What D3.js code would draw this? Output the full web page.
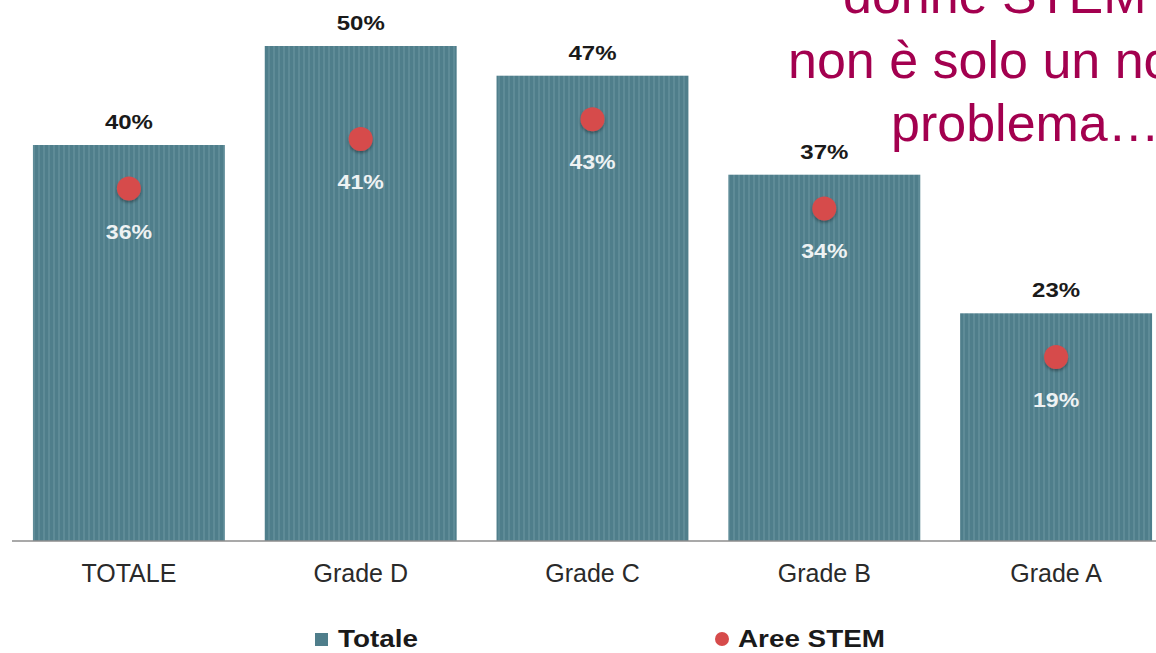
<!DOCTYPE html>
<html>
<head>
<meta charset="utf-8">
<script src="https://cdn.jsdelivr.net/npm/d3@7"></script>
<style>
  body { margin: 0; background: #fff; overflow: hidden; }
  svg { display: block; }
</style>
</head>
<body>
<svg id="chart"></svg>
<script>
// Data
const categories = ['TOTALE', 'Grade D', 'Grade C', 'Grade B', 'Grade A'];
const totale = [40, 50, 47, 37, 23];
const stem = [36, 41, 43, 34, 19];
const legendLabels = ['Totale', 'Aree STEM'];
const titleLines = ['donne STEM', 'non è solo un no', 'problema…'];

const width = 1156;
const height = 653;
const FONT = 'Liberation Sans, Arial, sans-serif';

const svg = d3.select('#chart')
  .attr('width', width)
  .attr('height', height);

// Stripe pattern for the bars
const defs = svg.append('defs');
const pat = defs.append('pattern')
  .attr('id', 'stripes')
  .attr('patternUnits', 'userSpaceOnUse')
  .attr('width', 5)
  .attr('height', 10);
pat.append('rect').attr('width', 5).attr('height', 10).attr('fill', '#4f7e8b');
pat.append('rect').attr('x', 3).attr('width', 2).attr('height', 10).attr('fill', '#5e8b97');

const shadow = defs.append('filter').attr('id', 'dotShadow')
  .attr('x', '-50%').attr('y', '-50%').attr('width', '200%').attr('height', '200%');
shadow.append('feDropShadow')
  .attr('dx', 0).attr('dy', 2).attr('stdDeviation', 1.5)
  .attr('flood-color', '#000').attr('flood-opacity', 0.35);

// Scales
const x = d3.scaleBand()
  .domain(categories)
  .range([13, 1172])
  .paddingInner(0.172)
  .paddingOuter(0.086);

const y = d3.scaleLinear()
  .domain([0, 50])
  .range([541, 46]);

// Bars
svg.append('g').selectAll('rect')
  .data(categories)
  .enter()
  .append('rect')
  .attr('x', d => x(d))
  .attr('y', (d, i) => y(totale[i]))
  .attr('width', x.bandwidth())
  .attr('height', (d, i) => y(0) - y(totale[i]))
  .attr('fill', 'url(#stripes)');

// Baseline axis
const axis = svg.append('g')
  .attr('transform', `translate(0,${y(0)})`)
  .call(d3.axisBottom(x).tickSize(0).tickPadding(23));
axis.select('.domain').remove();
axis.append('line')
  .attr('x1', 12).attr('x2', width)
  .attr('stroke', '#8c8c8c').attr('stroke-width', 1.5);
axis.selectAll('.tick text')
  .attr('font-family', FONT)
  .attr('font-size', 25)
  .attr('fill', '#2a2a2a');

// Value labels above bars (slightly widened like the source)
svg.append('g').selectAll('text')
  .data(categories)
  .enter()
  .append('text')
  .attr('transform', (d, i) => `translate(${x(d) + x.bandwidth() / 2},${y(totale[i]) - 16}) scale(1.2,1)`)
  .attr('text-anchor', 'middle')
  .attr('font-family', FONT)
  .attr('font-weight', 'bold')
  .attr('font-size', 20)
  .attr('fill', '#1a1a1a')
  .text((d, i) => totale[i] + '%');

// STEM dots
const dots = svg.append('g').selectAll('g')
  .data(categories)
  .enter()
  .append('g')
  .attr('transform', (d, i) => `translate(${x(d) + x.bandwidth() / 2},${y(stem[i]) + 4})`);

dots.append('circle')
  .attr('r', 12)
  .attr('fill', '#d64b4b')
  .attr('filter', 'url(#dotShadow)');

dots.append('text')
  .attr('transform', 'translate(0,50) scale(1.1,1)')
  .attr('text-anchor', 'middle')
  .attr('font-family', FONT)
  .attr('font-weight', 'bold')
  .attr('font-size', 21)
  .attr('fill', '#eef2f3')
  .text((d, i) => stem[i] + '%');

// Legend
const legend = svg.append('g')
  .attr('font-family', FONT)
  .attr('font-weight', 'bold')
  .attr('font-size', 24)
  .attr('fill', '#1a1a1a');
legend.append('rect')
  .attr('x', 315).attr('y', 633).attr('width', 13).attr('height', 13)
  .attr('fill', '#4f7e8b');
legend.append('circle')
  .attr('cx', 722).attr('cy', 639).attr('r', 7)
  .attr('fill', '#d64b4b');
const legendX = [338, 738];
legend.selectAll('text')
  .data(legendLabels)
  .enter()
  .append('text')
  .attr('transform', (d, i) => `translate(${legendX[i]},647) scale(1.16,1)`)
  .text(d => d);

// Title (magenta, top right, runs past the frame as in the source)
const titleX = [843, 788, 891];
const titleY = [13, 78, 141];
svg.append('g').selectAll('text')
  .data(titleLines)
  .enter()
  .append('text')
  .attr('x', (d, i) => titleX[i])
  .attr('y', (d, i) => titleY[i])
  .attr('font-family', FONT)
  .attr('font-size', 52)
  .attr('fill', '#a3004f')
  .text(d => d);
</script>
</body>
</html>
